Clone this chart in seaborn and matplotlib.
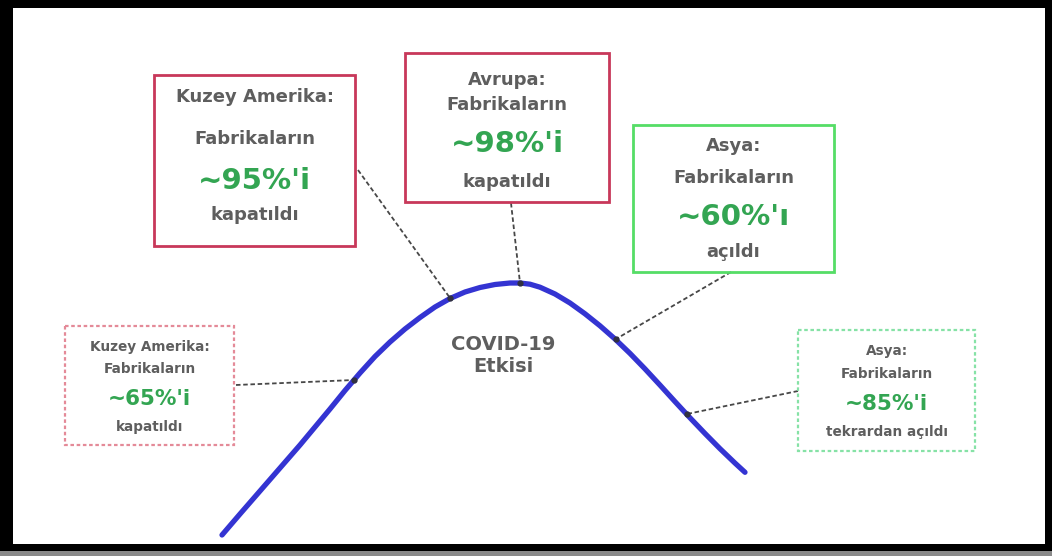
import matplotlib
matplotlib.use("Agg")
import matplotlib.pyplot as plt
import seaborn as sns
from matplotlib.patches import Rectangle

sns.set_theme(style="white")
plt.rcParams["font.family"] = ["DejaVu Sans"]

# ---- data (image pixel space, y grows downward) ----
curve_x = [222, 240, 260, 280, 300, 315, 330, 345, 360, 375, 390, 405, 420, 435,
           450, 465, 480, 495, 510, 520, 530, 540, 555, 570, 585, 600, 615, 630,
           645, 660, 675, 690, 705, 720, 735, 745]
curve_y = [535, 514, 491, 468, 445, 427, 409, 390.5, 373, 356.5, 342, 329, 317.5,
           307, 298.5, 292, 287.5, 284.5, 283, 283, 284.2, 287.2, 294, 303, 313.8,
           325.8, 339, 353.4, 368.9, 385.1, 401.6, 417.8, 433.5, 448.7, 463.1, 472.3]

regions = ["Kuzey Amerika:", "Avrupa:", "Asya:", "Kuzey Amerika:", "Asya:"]
subject = ["Fabrikaların"] * 5
shares = ["~95%'i", "~98%'i", "~60%'ı", "~65%'i", "~85%'i"]
actions = ["kapatıldı", "kapatıldı", "açıldı", "kapatıldı", "tekrardan açıldı"]
center_label = "COVID-19\nEtkisi"

# ---- layout / style ----
boxes = [  # x0, y0, x1, y1
    (154, 75, 355, 246),
    (405, 53, 609, 202),
    (633, 125, 834, 272),
    (65, 326, 234, 445),
    (798, 330, 975, 451),
]
line_y = [
    (97, 139, 181, 215),
    (80, 105, 144, 182),
    (146, 178, 217, 252),
    (347, 369, 399, 427),
    (351, 374, 404, 432),
]
edge_colors = ["#c8385a", "#c8385a", "#55dd66", "#e48a98", "#86e2a6"]
edge_styles = ["-", "-", "-", (0, (1.6, 1.2)), (0, (1.6, 1.2))]
edge_widths = [2.0, 2.0, 2.0, 1.6, 1.6]
txt_size = [13, 13, 13, 9.8, 9.8]
pct_size = [21, 21, 21, 15.5, 15.5]
leaders = [  # box point -> curve point
    ((358, 170), (450, 298)),
    ((511, 203), (520, 283)),
    ((731, 272), (616, 339)),
    ((236, 385), (354, 380)),
    ((798, 391), (687, 414)),
]

W, H = 1052, 556
fig = plt.figure(figsize=(W / 100, H / 100), dpi=100, facecolor="black")
fig.add_artist(Rectangle((0, 0), 1, 5 / H, transform=fig.transFigure,
                         facecolor="#8a8a8a", edgecolor="none"))
x0, x1, y0, y1 = 13, 1045, 8, 544
ax = fig.add_axes([x0 / W, (H - y1) / H, (x1 - x0) / W, (y1 - y0) / H])
ax.set_facecolor("white")
ax.set_xlim(x0, x1)
ax.set_ylim(y1, y0)
ax.set_xticks([])
ax.set_yticks([])
for s in ax.spines.values():
    s.set_visible(False)

gray = "#5e5e5e"
green = "#33a552"

# leader lines
for (p, q) in leaders:
    ax.plot([p[0], q[0]], [p[1], q[1]], color="#474747", lw=1.3,
            linestyle=(0, (2.5, 1.5)), zorder=2)

# curve
sns.lineplot(x=curve_x, y=curve_y, sort=False, estimator=None, ax=ax,
             color="#3434d2", lw=3.8, solid_capstyle="round",
             solid_joinstyle="round", zorder=3)

# markers where leaders touch the curve
for (p, q) in leaders:
    ax.plot([q[0]], [q[1]], "o", ms=3.5, color="#303040", zorder=4)

# boxes and text
for i, (bx0, by0, bx1, by1) in enumerate(boxes):
    ax.add_patch(Rectangle((bx0, by0), bx1 - bx0, by1 - by0, fill=False,
                           edgecolor=edge_colors[i], lw=edge_widths[i],
                           linestyle=edge_styles[i], zorder=2))
    cx = (bx0 + bx1) / 2
    ly = line_y[i]
    ax.text(cx, ly[0], regions[i], ha="center", va="center",
            fontsize=txt_size[i], color=gray, fontweight="bold")
    ax.text(cx, ly[1], subject[i], ha="center", va="center",
            fontsize=txt_size[i], color=gray, fontweight="bold")
    ax.text(cx, ly[2], shares[i], ha="center", va="center",
            fontsize=pct_size[i], color=green, fontweight="bold")
    ax.text(cx, ly[3], actions[i], ha="center", va="center",
            fontsize=txt_size[i], color=gray, fontweight="bold")

ax.text(503, 356, center_label, ha="center", va="center", fontsize=14,
        color=gray, fontweight="bold", linespacing=1.2)

fig.savefig("out.png", dpi=100, facecolor=fig.get_facecolor())
